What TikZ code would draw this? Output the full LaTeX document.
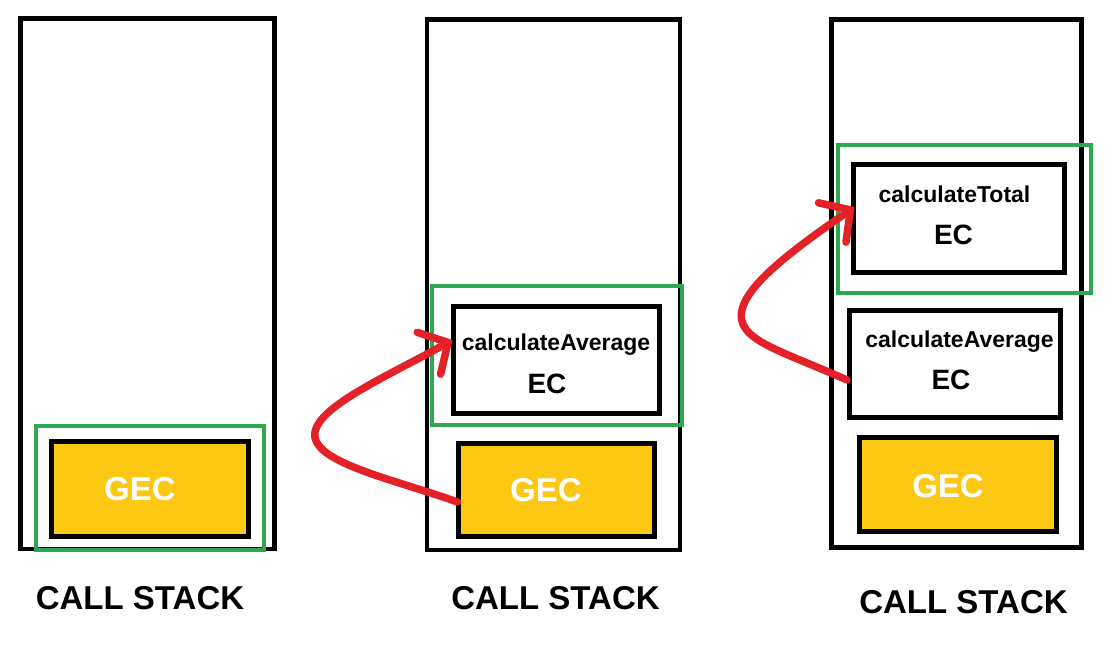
\documentclass[tikz,border=0pt]{standalone}
\usepackage{fontspec}
\setmainfont{Liberation Sans}
\usetikzlibrary{arrows.meta}
\definecolor{gecyellow}{RGB}{252,200,20}
\definecolor{framegreen}{RGB}{46,168,80}
\definecolor{arrowred}{RGB}{228,32,40}
\tikzset{
  stackbox/.style={draw=black, line width=4.5pt, rectangle, inner sep=0pt},
  greenbox/.style={draw=framegreen, line width=4pt, rectangle, inner sep=0pt},
  ecbox/.style={draw=black, line width=5pt, fill=white, rectangle, inner sep=0pt},
  gecbox/.style={draw=black, line width=5pt, fill=gecyellow, rectangle, inner sep=0pt},
  gectext/.style={anchor=base, text=white, font=\fontsize{33}{36}\selectfont\bfseries, inner sep=0pt},
  fntext/.style={anchor=base, font=\fontsize{23}{26}\selectfont\bfseries, inner sep=0pt},
  ectext/.style={anchor=base, font=\fontsize{28}{30}\selectfont\bfseries, inner sep=0pt},
  cstext/.style={anchor=base, font=\fontsize{33}{38}\selectfont\bfseries, inner sep=0pt},
  callarrow/.style={draw=arrowred, line width=7.5pt, line cap=round,
    -{Straight Barb[length=22pt,width=48pt,line cap=round]}},
}
\begin{document}
\begin{tikzpicture}[x=1pt,y=-1pt]
\useasboundingbox (0,0) rectangle (1112,645);
% stack 1
\node[stackbox, minimum width=254pt, minimum height=530.5pt] (s1) at (147.5,283.75) {};
\node[gecbox, minimum width=197pt, minimum height=95pt] (gec1) at (150,489) {};
\node[greenbox, minimum width=228.5pt, minimum height=124.5pt] (g1) at (149.75,487.75) {};
\node[gectext] (gec1t) at (140,500) {GEC};
\node[cstext] (cs1) at (140,609) {CALL STACK};
% stack 2
\node[stackbox, minimum width=253pt, minimum height=530.5pt] (s2) at (553.5,284.75) {};
\node[ecbox, minimum width=206.5pt, minimum height=107pt] (ec2) at (556.25,360) {};
\node[gecbox, minimum width=196.5pt, minimum height=93pt] (gec2) at (556.25,490) {};
\node[greenbox, minimum width=250.5pt, minimum height=139.5pt] (g2) at (556.75,355.25) {};
\node[fntext] (ec2f) at (556,350) {calculateAverage};
\node[ectext] (ec2t) at (547,393) {EC};
\node[gectext] (gec2t) at (546,501) {GEC};
\node[cstext] (cs2) at (555.5,609) {CALL STACK};
% stack 3
\node[stackbox, minimum width=250pt, minimum height=528pt] (s3) at (956.5,283.5) {};
\node[ecbox, minimum width=211.5pt, minimum height=108pt] (tot3) at (958.75,218.5) {};
\node[ecbox, minimum width=211pt, minimum height=107pt] (avg3) at (955,364) {};
\node[gecbox, minimum width=197pt, minimum height=94pt] (gec3) at (958,484.5) {};
\node[greenbox, minimum width=253pt, minimum height=148pt] (g3) at (964,218.5) {};
\node[fntext] (tot3f) at (954.5,202) {calculateTotal};
\node[ectext] (tot3t) at (953.5,244) {EC};
\node[fntext] (avg3f) at (959.5,347) {calculateAverage};
\node[ectext] (avg3t) at (951,389) {EC};
\node[gectext] (gec3t) at (948,497) {GEC};
\node[cstext] (cs3) at (963.5,613) {CALL STACK};
% arrows
\coordinate (a2s) at ([xshift=2pt,yshift=-12pt]gec2.west);
\coordinate (a2e) at ([xshift=2pt,yshift=20pt]ec2.west);
\draw[callarrow] (a2s) .. controls (390,478) and (310,462) .. (315,432)
   .. controls (320,405) and (390,375) .. (a2e);
\coordinate (a3s) at ([xshift=0pt,yshift=-16pt]avg3.west);
\coordinate (a3e) at ([xshift=4pt,yshift=11.5pt]tot3.west);
\draw[callarrow] (a3s) .. controls (780,350) and (735,340) .. (742,310)
   .. controls (748,282) and (800,245) .. (a3e);
\end{tikzpicture}
\end{document}
